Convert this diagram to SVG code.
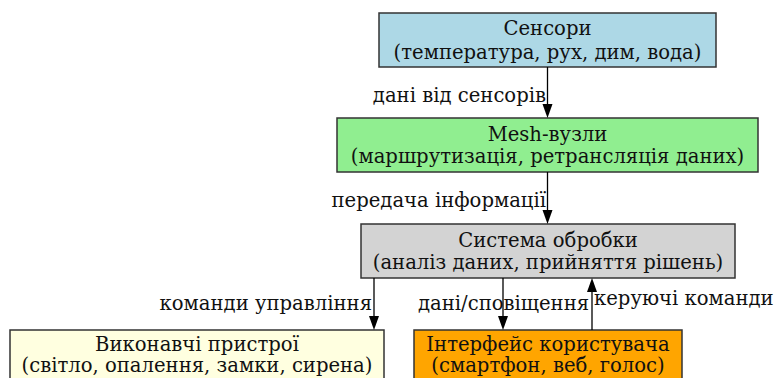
<svg xmlns="http://www.w3.org/2000/svg" width="774" height="378" viewBox="0 0 774 378">
  <defs>
    <style>
      .box { stroke: #333; stroke-width: 1.5; }
      .t { font-family: "DejaVu Serif", "Liberation Serif", serif; font-size: 19.6px; fill: #111; text-anchor: middle; }
      .lbl { font-family: "DejaVu Serif", "Liberation Serif", serif; font-size: 19.6px; fill: #111; }
      .edge { stroke: #000; stroke-width: 1.3; fill: none; }
      .head { fill: #000; }
    </style>
  </defs>
  <rect width="774" height="378" fill="#fff"/>

  <g id="sensors">
    <rect class="box" x="379" y="13" width="337" height="54" fill="#add8e6"/>
    <text class="t" x="547.5" y="35">Сенсори</text>
    <text class="t" x="547.5" y="59">(температура, рух, дим, вода)</text>
  </g>

  <g id="mesh">
    <rect class="box" x="337" y="118" width="421" height="54" fill="#90ee90"/>
    <text class="t" x="547.5" y="141">Mesh-вузли</text>
    <text class="t" x="547.5" y="163">(маршрутизація, ретрансляція даних)</text>
  </g>

  <g id="processing">
    <rect class="box" x="361" y="224" width="374" height="54" fill="#d3d3d3"/>
    <text class="t" x="548" y="247">Система обробки</text>
    <text class="t" x="548" y="269">(аналіз даних, прийняття рішень)</text>
  </g>

  <g id="actuators">
    <rect class="box" x="10" y="330" width="374" height="54" fill="#ffffe0"/>
    <text class="t" x="197" y="351">Виконавчі пристрої</text>
    <text class="t" x="197" y="372">(світло, опалення, замки, сирена)</text>
  </g>

  <g id="ui">
    <rect class="box" x="414" y="330" width="268" height="54" fill="#ffa500"/>
    <text class="t" x="548" y="351">Інтерфейс користувача</text>
    <text class="t" x="548" y="372">(смартфон, веб, голос)</text>
  </g>

  <g id="connectors">
    <line class="edge" x1="547.5" y1="67" x2="547.5" y2="105"/>
    <path class="head" d="M542.5,104 L552.5,104 L547.5,118 Z"/>
    <text class="lbl" x="546" y="102" text-anchor="end">дані від сенсорів</text>

    <line class="edge" x1="547.5" y1="172" x2="547.5" y2="211"/>
    <path class="head" d="M542.5,210 L552.5,210 L547.5,224 Z"/>
    <text class="lbl" x="546" y="207" text-anchor="end">передача інформації</text>

    <line class="edge" x1="374" y1="278" x2="374" y2="317"/>
    <path class="head" d="M369,316 L379,316 L374,330 Z"/>
    <text class="lbl" x="372" y="310" text-anchor="end">команди управління</text>

    <line class="edge" x1="503" y1="278" x2="503" y2="317"/>
    <path class="head" d="M498,316 L508,316 L503,330 Z"/>
    <text class="lbl" x="418" y="310">дані/сповіщення</text>

    <line class="edge" x1="592" y1="330" x2="592" y2="291"/>
    <path class="head" d="M587,292 L597,292 L592,278 Z"/>
    <text class="lbl" x="594" y="305">керуючі команди</text>
  </g>
</svg>
